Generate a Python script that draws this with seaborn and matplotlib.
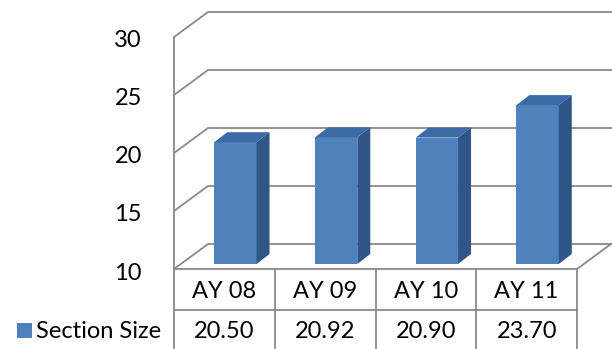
import matplotlib
matplotlib.use("Agg")
import matplotlib.pyplot as plt
import seaborn as sns
import numpy as np
from matplotlib.transforms import ScaledTranslation, blended_transform_factory
from matplotlib.patches import Polygon, Rectangle

# data
years = ["AY 08", "AY 09", "AY 10", "AY 11"]
section_size = [20.50, 20.92, 20.90, 23.70]
series_name = "Section Size"
y_ticks = [10, 15, 20, 25, 30]

sns.set_style("white")
plt.rcParams["font.family"] = ["Lato", "DejaVu Sans"]
plt.rcParams["text.color"] = "black"
plt.rcParams["ytick.color"] = "black"

DPI = 100
W, H = 612, 349
FS = 17
fig = plt.figure(figsize=(W / DPI, H / DPI), dpi=DPI)
# axes = plane of the bars (mid depth)
ax = fig.add_axes([185 / W, (H - 264) / H, 403 / W, 232 / H])

front_col = "#4F81BD"
side_col = "#2F5686"
top_col = "#3C6AA6"
line_col = "#8A8A8A"

sns.barplot(x=years, y=section_size, color=front_col, width=0.42,
            edgecolor="none", saturation=1, ax=ax, zorder=5)
ax.set_xlim(-0.5, len(years) - 0.5)
ax.set_ylim(y_ticks[0], y_ticks[-1])

FRONT = (-11, -5)  # pixel offset of front plane from bar plane
BACK = (23, 20)    # pixel offset of back wall
DEPTH = (13, 10)   # bar depth in pixels


def to_data(x, y, off):
    p = ax.transData.transform((x, y)) + np.array(off)
    return ax.transData.inverted().transform(p)


# bars start at the floor, add side and top faces
for p in ax.patches:
    top = p.get_height()
    p.set_y(y_ticks[0])
    p.set_height(top - y_ticks[0])
    x0, x1 = p.get_x(), p.get_x() + p.get_width()
    y0, y1 = y_ticks[0], top
    side = [to_data(x1, y0, (0, 0)), to_data(x1, y1, (0, 0)),
            to_data(x1, y1, DEPTH), to_data(x1, y0, DEPTH)]
    lid = [to_data(x0, y1, (0, 0)), to_data(x1, y1, (0, 0)),
           to_data(x1, y1, DEPTH), to_data(x0, y1, DEPTH)]
    ax.add_patch(Polygon(side, closed=True, facecolor=side_col, edgecolor="none", zorder=5, clip_on=False))
    ax.add_patch(Polygon(lid, closed=True, facecolor=top_col, edgecolor="none", zorder=5, clip_on=False))

xl, xr = -0.5, len(years) - 0.5
LW = 1.3
lkw = dict(color=line_col, lw=LW, clip_on=False, zorder=1, solid_joinstyle="miter")

# gridlines on side wall and back wall
for t in y_ticks:
    pts = np.array([to_data(xl, t, FRONT), to_data(xl, t, BACK), to_data(xr + 0.1, t, BACK)])
    ax.plot(pts[:, 0], pts[:, 1], **lkw)

# floor front and right edge, wall front edge
pts = np.array([to_data(xl, y_ticks[0], FRONT), to_data(xr, y_ticks[0], FRONT),
                to_data(xr, y_ticks[0], BACK)])
ax.plot(pts[:, 0], pts[:, 1], **lkw)
pts = np.array([to_data(xl, y_ticks[0], FRONT), to_data(xl, y_ticks[-1], FRONT)])
ax.plot(pts[:, 0], pts[:, 1], **lkw)

sns.despine(ax=ax, left=True, bottom=True)
ax.set_xlabel("")
ax.set_ylabel("")
ax.set_xticks([])
ax.set_yticks(y_ticks)
ax.set_yticklabels([str(t) for t in y_ticks])
ax.tick_params(axis="y", length=0, pad=31, labelsize=FS)
for lab in ax.get_yticklabels():
    lab.set_transform(lab.get_transform() + ScaledTranslation(0, -7 / DPI, fig.dpi_scale_trans))

# data table below the floor
tx = blended_transform_factory(ax.transData + ScaledTranslation(FRONT[0] / DPI, 0, fig.dpi_scale_trans),
                               fig.transFigure)
row1_y = 1 - 291 / H
row2_y = 1 - 331 / H
sep_y = 1 - 310 / H
floor_y = 1 - 269 / H
tkw = dict(color=line_col, lw=LW, clip_on=False, transform=tx)
for i, (yr, v) in enumerate(zip(years, section_size)):
    ax.text(i, row1_y, yr, transform=tx, ha="center", va="center", fontsize=FS)
    ax.text(i, row2_y, f"{v:.2f}", transform=tx, ha="center", va="center", fontsize=FS)
for b in np.arange(len(years) + 1) - 0.5:
    ax.plot([b, b], [floor_y, 0], **tkw)
ax.plot([xl, xr], [sep_y, sep_y], **tkw)

# legend cell
fig.lines.append(plt.Line2D([7 / W, 174 / W], [sep_y, sep_y], color=line_col, lw=LW))
fig.lines.append(plt.Line2D([7 / W, 7 / W], [sep_y, 0], color=line_col, lw=LW))
fig.patches.append(Rectangle((17 / W, 1 - 338 / H), 15 / W, 15 / H, facecolor=front_col,
                             edgecolor="none", transform=fig.transFigure))
fig.text(36 / W, row2_y, series_name, ha="left", va="center", fontsize=FS)

fig.savefig("out.png", dpi=DPI)
